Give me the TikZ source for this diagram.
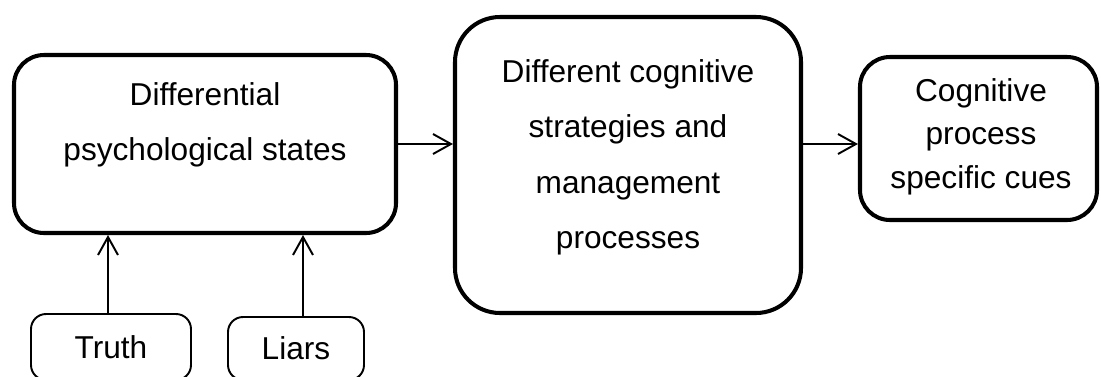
\documentclass[tikz,border=0pt]{standalone}
\usepackage{fontspec}
\setmainfont{Liberation Sans}
\usetikzlibrary{arrows.meta,positioning}
\begin{document}
\begin{tikzpicture}[
    bigbox/.style={draw,line width=2.3pt,inner sep=0pt,rounded corners=#1},
    smallbox/.style={draw,line width=1.1pt,inner sep=0pt,rounded corners=0.3cm},
    boxtext/.style={align=center,font=\fontsize{18pt}{#1}\selectfont,inner sep=0pt},
    arr/.style={line width=1.1pt,-{Straight Barb[length=0.36cm,width=0.4cm]}}]
    \useasboundingbox (0,0) rectangle (22.02,7.52);
    \node[bigbox=0.6cm,minimum width=7.64cm,minimum height=3.56cm] (states) at (4.10,4.64) {};
    \node[bigbox=0.9cm,minimum width=6.92cm,minimum height=5.92cm] (strategies) at (12.56,4.22) {};
    \node[bigbox=0.6cm,minimum width=4.74cm,minimum height=3.26cm] (cues) at (19.57,4.75) {};
    % text sits on the baseline of its last line
    \node[boxtext=31.3pt,anchor=base] (statestext) at (4.10,4.32) {Differential\\psychological states};
    \node[boxtext=31.3pt,anchor=base] (strategiestext) at (12.56,2.56) {Different cognitive\\strategies and\\management\\processes};
    \node[boxtext=24.5pt,anchor=base] (cuestext) at (19.62,3.76) {Cognitive\\process\\specific cues};
    \node[smallbox,minimum width=3.2cm,minimum height=1.32cm,font=\fontsize{18pt}{22pt}\selectfont] (truth) at (2.22,0.58) {Truth};
    \node[smallbox,minimum width=2.72cm,minimum height=1.26cm,font=\fontsize{18pt}{22pt}\selectfont] (liars) at (5.92,0.55) {Liars};
    \draw[arr] (states.east) -- (states.east -| strategies.west);
    \draw[arr] (states.east -| strategies.east) -- (states.east -| cues.west);
    \draw[arr] ([xshift=-0.06cm]truth.north) -- ([xshift=-0.06cm]truth.north |- states.south);
    \draw[arr] ([xshift=0.14cm]liars.north) -- ([xshift=0.14cm]liars.north |- states.south);
  \end{tikzpicture}
\end{document}
